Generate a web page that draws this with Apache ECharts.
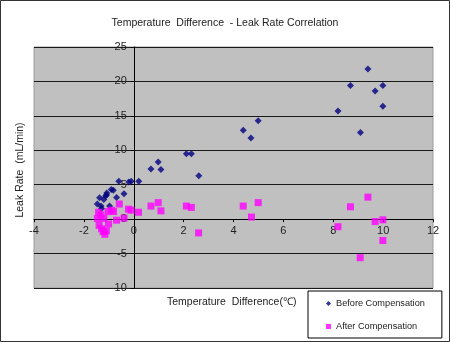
<!DOCTYPE html>
<html>
<head>
<meta charset="utf-8">
<script src="https://cdn.jsdelivr.net/npm/echarts@6/dist/echarts.min.js"></script>
<style>
  html, body { margin: 0; padding: 0; background: #fff; }
  #chart { width: 450px; height: 342px; }
</style>
</head>
<body>
<div id="chart"></div>
<script>
// Temperature difference (°C) vs. leak rate (mL/min), before and after compensation
const beforeTemp = [-1.46, -1.31, -1.29, -1.37, -1.2, -1.13, -1.09, -1.08, -0.97, -0.9, -0.82, -0.69, -0.6, -0.39, -0.2, -0.1, 0.2, 0.69, 0.98, 1.09, 2.11, 2.31, 2.61, 4.39, 4.7, 4.99, 8.19, 8.69, 9.09, 9.39, 9.68, 9.99, 9.99];
const beforeLeak = [2.2, 1.9, 1.55, 3.1, 2.85, 3.35, 3.5, 3.8, 1.9, 4.3, 4.2, 3.15, 5.5, 3.7, 5.4, 5.5, 5.5, 7.3, 8.3, 7.2, 9.5, 9.5, 6.3, 12.9, 11.8, 14.3, 15.7, 19.4, 12.6, 21.8, 18.6, 19.4, 16.4];

const afterTemp = [-1.46, -1.41, -1.39, -1.32, -1.29, -1.23, -1.2, -1.16, -1.1, -1.03, -1.01, -0.89, -0.81, -0.69, -0.58, -0.39, -0.21, -0.11, 0.19, 0.69, 0.98, 1.09, 2.11, 2.31, 2.6, 4.39, 4.72, 4.99, 8.19, 8.69, 9.08, 9.39, 9.68, 9.99, 9.99];
const afterLeak = [0.1, 1.0, -0.9, 0.6, -1.4, -1.8, 0.1, -2.2, -1.7, 1.1, -0.7, 1.3, 1.1, -0.15, 2.2, 0.15, 1.45, 1.3, 1.0, 1.9, 2.4, 1.2, 1.9, 1.7, -2.0, 1.9, 0.3, 2.4, -1.1, 1.8, -5.6, 3.2, -0.35, -0.1, -3.1];

const seriesNames = ['Before Compensation', 'After Compensation'];
const chartTitle = 'Temperature  Difference  - Leak Rate Correlation';
const xTitle = 'Temperature  Difference(\u2103)';
const yTitle = 'Leak Rate  (mL/min)';

const X_MIN = -4, X_MAX = 12, X_STEP = 2;
const Y_MIN = -10, Y_MAX = 25, Y_STEP = 5;

const pairs = (xs, ys) => xs.map((x, i) => [x, ys[i]]);
const FONT = '"Liberation Sans", Arial, sans-serif';

// plot box in pixels
const G = { left: 34, top: 47, right: 17, bottom: 54, w: 450, h: 342 };
const plotW = G.w - G.left - G.right;
const plotH = G.h - G.top - G.bottom;
// both axes cross at zero: shift them off the plot edges to the zero lines
const xAxisShift = -plotH * (0 - Y_MIN) / (Y_MAX - Y_MIN);
const yAxisShift = -plotW * (0 - X_MIN) / (X_MAX - X_MIN);

const chart = echarts.init(document.getElementById('chart'), null, { renderer: 'canvas' });
chart.setOption({
  animation: false,
  backgroundColor: '#ffffff',
  title: {
    text: chartTitle,
    left: 'center',
    top: 13,
    textStyle: { fontFamily: FONT, fontSize: 10.5, fontWeight: 'normal', color: '#222' }
  },
  grid: {
    left: G.left, top: G.top, right: G.right, bottom: G.bottom,
    show: true,
    backgroundColor: '#c0c0c0',
    borderColor: '#9a9a9a',
    borderWidth: 1
  },
  xAxis: {
    type: 'value',
    min: X_MIN, max: X_MAX, interval: X_STEP,
    offset: xAxisShift,
    axisLine: { onZero: false, lineStyle: { color: '#000', width: 1 } },
    axisTick: { show: true, length: 3, lineStyle: { color: '#000' } },
    axisLabel: { margin: 6, fontFamily: FONT, fontSize: 11, color: '#222' },
    splitLine: { show: false }
  },
  yAxis: {
    type: 'value',
    min: Y_MIN, max: Y_MAX, interval: Y_STEP,
    offset: yAxisShift,
    axisLine: { onZero: false, lineStyle: { color: '#000', width: 1 } },
    axisTick: { show: true, length: 3, lineStyle: { color: '#000' } },
    axisLabel: { margin: 7, fontFamily: FONT, fontSize: 11, color: '#222' },
    splitLine: { show: true, lineStyle: { color: '#1a1a1a', width: 1 } }
  },
  legend: {
    orient: 'vertical',
    left: 308,
    top: 291,
    padding: [8, 17, 7, 18],
    itemGap: 14,
    itemWidth: 5,
    itemHeight: 5,
    backgroundColor: '#fff',
    borderColor: '#000',
    borderWidth: 1,
    textStyle: { fontFamily: FONT, fontSize: 9.2, color: '#222' },
    data: [
      { name: seriesNames[0], icon: 'diamond', itemStyle: { color: '#000080' } },
      { name: seriesNames[1], icon: 'rect', itemStyle: { color: '#ff00ff' } }
    ]
  },
  graphic: [
    {
      type: 'rect', silent: true, z: 100,
      shape: { x: 0.5, y: 0.5, width: 449, height: 341 },
      style: { fill: 'none', stroke: '#333', lineWidth: 1 }
    },
    {
      type: 'text', left: 167, top: 297,
      style: { text: xTitle, font: '10.5px ' + FONT, fill: '#222' }
    },
    {
      type: 'text', x: 20, y: 170, rotation: Math.PI / 2,
      style: { text: yTitle, font: '10.5px ' + FONT, fill: '#222', align: 'center', verticalAlign: 'middle' }
    }
  ],
  series: [
    {
      name: seriesNames[0],
      type: 'scatter',
      symbol: 'diamond',
      symbolSize: 7,
      itemStyle: { color: '#000080' },
      data: pairs(beforeTemp, beforeLeak),
      z: 3
    },
    {
      name: seriesNames[1],
      type: 'scatter',
      symbol: 'rect',
      symbolSize: 7,
      itemStyle: { color: '#ff00ff' },
      data: pairs(afterTemp, afterLeak),
      z: 4
    }
  ]
});
</script>
</body>
</html>
